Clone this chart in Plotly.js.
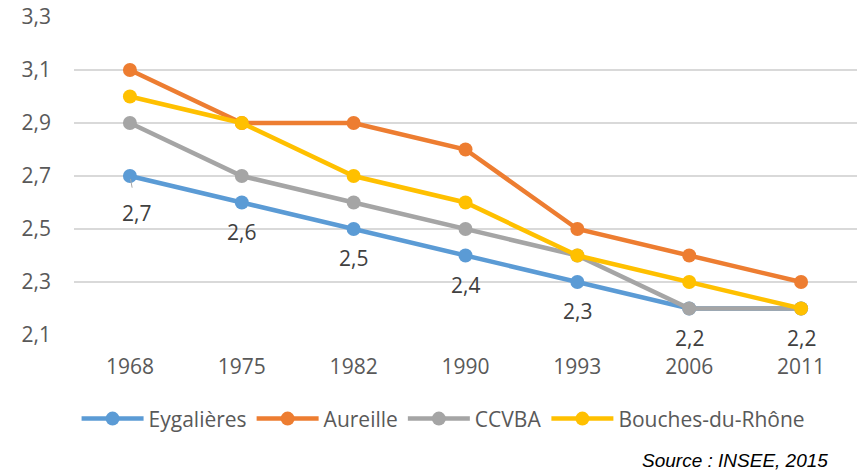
<!DOCTYPE html>
<html>
<head>
<meta charset="utf-8">
<script src="https://cdn.plot.ly/plotly-3.0.1.min.js"></script>
<style>html,body{margin:0;padding:0;background:#fff;}#chart{width:857px;height:470px;}</style>
</head>
<body>
<div id="chart"></div>
<script>
const years = ['1968', '1975', '1982', '1990', '1993', '2006', '2011'];
const eygalieres = [2.7, 2.6, 2.5, 2.4, 2.3, 2.2, 2.2];
const aureille = [3.1, 2.9, 2.9, 2.8, 2.5, 2.4, 2.3];
const ccvba = [2.9, 2.7, 2.6, 2.5, 2.4, 2.2, 2.2];
const bouches = [3.0, 2.9, 2.7, 2.6, 2.4, 2.3, 2.2];
const seriesNames = ['Eygalières', 'Aureille', 'CCVBA', 'Bouches-du-Rhône'];
const yTicks = [2.1, 2.3, 2.5, 2.7, 2.9, 3.1, 3.3];
const sourceText = 'Source : INSEE, 2015';

const colors = ['#5B9BD5', '#ED7D31', '#A5A5A5', '#FFC000'];
const allSeries = [eygalieres, aureille, ccvba, bouches];
const FONT = '"Open Sans", "Noto Sans", sans-serif';

const traces = allSeries.map((vals, i) => ({
  type: 'scatter',
  mode: 'lines+markers',
  x: years,
  y: vals,
  name: seriesNames[i],
  line: {color: colors[i], width: 4.5},
  marker: {color: colors[i], size: 14, symbol: 'circle'},
  hoverinfo: 'skip'
}));

const fmt = v => v.toFixed(1).replace('.', ',');

const annotations = eygalieres.map((v, i) => ({
  x: years.indexOf(years[i]), y: v, xref: 'x', yref: 'y',
  text: fmt(v),
  showarrow: true,
  arrowhead: 0,
  arrowwidth: 1,
  arrowcolor: i === 0 ? '#A6A6A6' : 'rgba(0,0,0,0)',
  ax: i === 0 ? 7 : 0,
  ay: i === 0 ? 37 : 29,
  standoff: 3,
  startstandoff: 10,
  font: {family: FONT, size: 21, color: '#404040'}
}));

annotations.push({
  xref: 'paper', yref: 'paper',
  x: 0.9655, xanchor: 'right',
  y: -0.395, yanchor: 'middle',
  text: sourceText,
  showarrow: false,
  font: {family: '"Liberation Sans", Arial, sans-serif', size: 19, color: '#000', style: 'italic'}
});

const layout = {
  width: 857, height: 470,
  margin: {l: 74, r: 0, t: 17, b: 135},
  paper_bgcolor: '#fff', plot_bgcolor: '#fff',
  separators: ', ',
  showlegend: true,
  font: {family: FONT, size: 21, color: '#595959'},
  xaxis: {
    type: 'category',
    range: [-0.5, 6.5],
    showgrid: false, zeroline: false, showline: false,
    ticks: '', ticklabelstandoff: 17,
    tickfont: {family: FONT, size: 21, color: '#595959'},
    fixedrange: true
  },
  yaxis: {
    range: [2.1, 3.3],
    tickmode: 'array', tickvals: yTicks,
    ticktext: yTicks.map(fmt),
    showgrid: true, gridcolor: '#D9D9D9', gridwidth: 1.3,
    zeroline: false, showline: false,
    ticks: '', ticklabelstandoff: 22,
    tickfont: {family: FONT, size: 21, color: '#595959'},
    fixedrange: true
  },
  legend: {
    orientation: 'h',
    x: 0.472, xanchor: 'center',
    y: -0.264, yanchor: 'middle',
    font: {family: FONT, size: 21, color: '#595959'},
    itemwidth: 62,
    traceorder: 'normal'
  },
  annotations: annotations
};

Plotly.newPlot('chart', traces, layout, {displayModeBar: false, staticPlot: true});
</script>
</body>
</html>
